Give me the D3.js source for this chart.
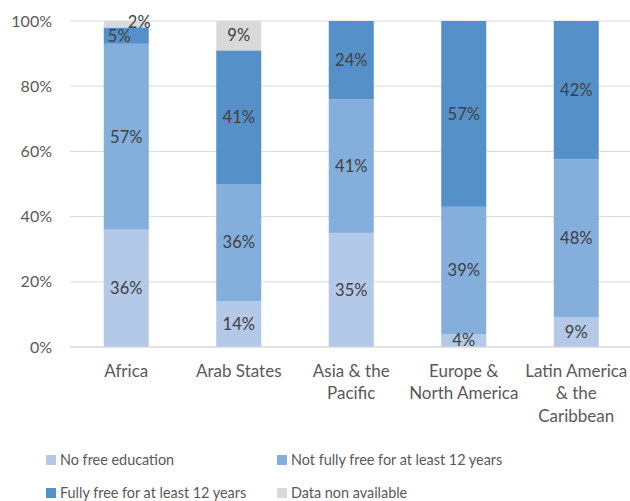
<!DOCTYPE html>
<html>
<head>
<meta charset="utf-8">
<script src="https://cdn.jsdelivr.net/npm/d3@7"></script>
<style>
  body { margin: 0; background: #fff; }
  svg { font-family: Lato, "Noto Sans", sans-serif; }
</style>
</head>
<body>
<div id="chart"></div>
<script>
// categories and series (percent)
const regions = ["Africa", "Arab States", "Asia & the Pacific", "Europe & North America", "Latin America & the Caribbean"];
const regionLines = [["Africa"], ["Arab States"], ["Asia & the", "Pacific"], ["Europe &", "North America"], ["Latin America", "& the", "Caribbean"]];
const noFree = [36, 14, 35, 4, 9];
const notFully = [57, 36, 41, 39, 48];
const fullyFree = [5, 41, 24, 57, 42];
const notAvail = [2, 9, 0, 0, 0];
const seriesNames = ["No free education", "Not fully free for at least 12 years", "Fully free for at least 12 years", "Data non available"];
const yTicks = [0, 0.2, 0.4, 0.6, 0.8, 1];

const keys = ["noFree", "notFully", "fullyFree", "notAvail"];
const data = regions.map((r, i) => ({
    region: r,
    noFree: noFree[i],
    notFully: notFully[i],
    fullyFree: fullyFree[i],
    notAvail: notAvail[i]
}));

const svg = d3.select("#chart")
    .append("svg")
    .attr("width", 630)
    .attr("height", 501);

const margin = { top: 21, left: 70 };
const plotH = 326;

const x = d3.scaleBand()
    .domain(regions)
    .range([margin.left, 632.5])
    .paddingInner(0.6)
    .paddingOuter(0.3);

const y = d3.scaleLinear()
    .domain([0, 1])
    .range([margin.top + plotH, margin.top]);

const color = d3.scaleOrdinal()
    .domain(keys)
    .range(["#b4c8e8", "#84aedb", "#5591c8", "#d9d9d9"]);

// gridlines
svg.append("g")
    .selectAll("line")
    .data(yTicks)
    .join("line")
    .attr("x1", margin.left)
    .attr("x2", 630)
    .attr("y1", d => y(d))
    .attr("y2", d => y(d))
    .attr("stroke", "#d9d9d9")
    .attr("stroke-width", 1);

// y tick labels
svg.append("g")
    .selectAll("text")
    .data(yTicks)
    .join("text")
    .attr("x", 52)
    .attr("y", d => y(d))
    .attr("dy", "0.35em")
    .attr("text-anchor", "end")
    .attr("fill", "#595959")
    .attr("font-size", 16)
    .text(d3.format(".0%"));

const stacked = d3.stack()
    .keys(keys)
    .offset(d3.stackOffsetExpand)(data);

svg.append("g")
    .selectAll("g")
    .data(stacked)
    .join("g")
    .attr("fill", d => color(d.key))
    .selectAll("rect")
    .data(d => d)
    .join("rect")
    .attr("x", d => x(d.data.region))
    .attr("width", x.bandwidth())
    .attr("y", d => y(d[1]))
    .attr("height", d => y(d[0]) - y(d[1]));

// small segments at the top of Africa: labels pushed apart like in Excel
const nudge = { "Africa|fullyFree": [-7, 1], "Africa|notAvail": [13, -2] };

// value labels
svg.append("g")
    .selectAll("g")
    .data(stacked)
    .join("g")
    .selectAll("text")
    .data(d => d.map(v => ({ v, key: d.key })).filter(e => e.v.data[e.key] > 0))
    .join("text")
    .attr("x", d => x(d.v.data.region) + x.bandwidth() / 2 + (nudge[d.v.data.region + "|" + d.key] || [0, 0])[0])
    .attr("y", d => y((d.v[0] + d.v[1]) / 2) + (nudge[d.v.data.region + "|" + d.key] || [0, 0])[1])
    .attr("dy", "0.35em")
    .attr("text-anchor", "middle")
    .attr("fill", "#404040")
    .attr("font-size", 16.5)
    .text(d => d.v.data[d.key] + "%");

// x axis baseline
svg.append("line")
    .attr("x1", margin.left)
    .attr("x2", 630)
    .attr("y1", y(0))
    .attr("y2", y(0))
    .attr("stroke", "#d9d9d9");

// category labels
svg.append("g")
    .selectAll("text")
    .data(regions)
    .join("text")
    .attr("text-anchor", "middle")
    .attr("fill", "#595959")
    .attr("font-size", 17)
    .each(function (d, i) {
        d3.select(this).selectAll("tspan")
            .data(regionLines[i])
            .join("tspan")
            .attr("x", x(d) + x.bandwidth() / 2)
            .attr("y", (t, j) => 371 + j * 22.5)
            .attr("dy", "0.35em")
            .text(t => t);
    });

// legend
const legendPos = [[46, 460], [277, 460], [46, 493], [277, 493]];
const legend = svg.append("g")
    .selectAll("g")
    .data(keys)
    .join("g")
    .attr("transform", (d, i) => `translate(${legendPos[i][0]},${legendPos[i][1]})`);

legend.append("rect")
    .attr("x", 0)
    .attr("y", -5)
    .attr("width", 10)
    .attr("height", 10)
    .attr("fill", d => color(d));

legend.append("text")
    .attr("x", 14)
    .attr("y", 0)
    .attr("dy", "0.35em")
    .attr("fill", "#595959")
    .attr("font-size", 14.4)
    .text((d, i) => seriesNames[i]);
</script>
</body>
</html>
